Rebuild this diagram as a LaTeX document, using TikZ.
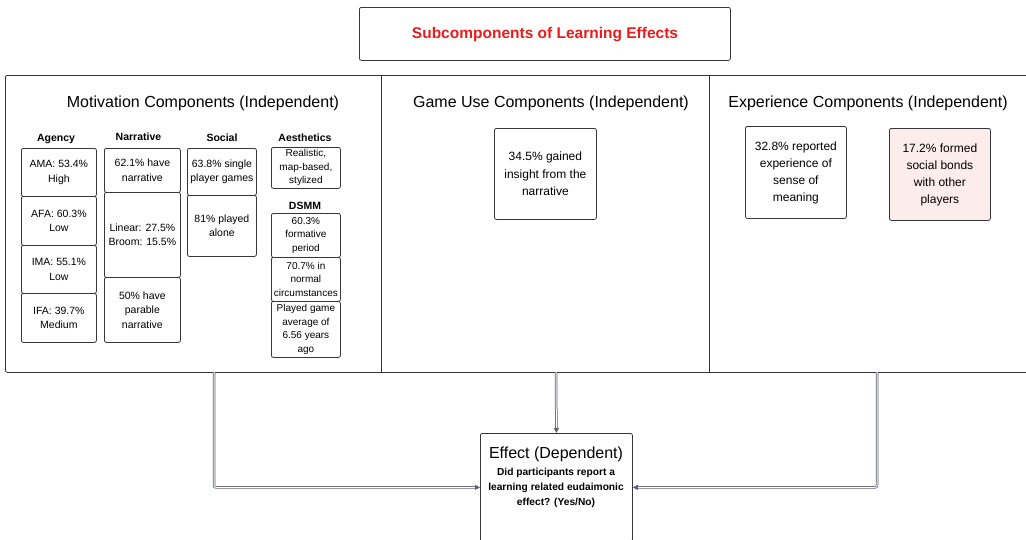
\documentclass[tikz,border=0pt]{standalone}
\usepackage{fontspec}
\setmainfont{Liberation Sans}
\usetikzlibrary{arrows.meta}
\definecolor{titlered}{RGB}{232,28,28}
\definecolor{edge}{RGB}{55,55,58}
\definecolor{pinkfill}{RGB}{253,236,236}
\definecolor{conngray}{RGB}{92,98,108}
\begin{document}
\begin{tikzpicture}[x=1pt,y=-1pt,
  box/.style={draw=edge, line width=0.8pt, rounded corners=2pt, anchor=north west, inner sep=0pt, align=center, font=\fontsize{10.5}{14.5}\selectfont},
  smallbox/.style={box, font=\fontsize{10}{13.5}\selectfont},
  bigbox/.style={box, font=\fontsize{12}{17.5}\selectfont},
  colhead/.style={font=\fontsize{10.5}{12}\selectfont\bfseries, anchor=base, inner sep=0pt},
  panelhead/.style={font=\fontsize{16}{19}\selectfont, anchor=base, inner sep=0pt},
  conn/.style={draw=conngray, line width=0.75pt, double=white, double distance=1pt, rounded corners=2pt, -{Triangle[length=5pt,width=5pt]}},
]
\useasboundingbox (0,0) rectangle (1026,539);
% title
\node[draw=edge, line width=0.8pt, rounded corners=2pt, anchor=north west, minimum width=371, minimum height=53, inner sep=0pt] (titlebox) at (359,7) {};
\node[font=\fontsize{15.5}{18}\selectfont\bfseries, text=titlered, anchor=base, inner sep=0pt] (title) at (545,38) {Subcomponents of Learning Effects};
% panel
\node[draw=edge, line width=0.8pt, rounded corners=2pt, anchor=north west, minimum width=1030, minimum height=297, inner sep=0pt] (panel) at (5,75) {};
\draw[edge, line width=0.8pt] (381,75) -- (381,372);
\draw[edge, line width=0.8pt] (709,75) -- (709,372);
\node[panelhead] (motivhead) at (203,107.5) {Motivation Components (Independent)};
\node[panelhead] (gamehead) at (551,107.5) {Game Use Components (Independent)};
\node[panelhead] (exphead) at (868,107.5) {Experience Components (Independent)};
% column headings
\node[colhead] (agency) at (56,141) {Agency};
\node[colhead] (narrative) at (138.5,140) {Narrative};
\node[colhead] (social) at (222,141) {Social};
\node[colhead] (aesthetics) at (305,141) {Aesthetics};
\node[colhead] (dsmm) at (305,209.5) {DSMM};
% agency
\node[box, minimum width=75, minimum height=48] (ag1) at (21,148) {AMA: 53.4\%\\High};
\node[box, minimum width=75, minimum height=49] (ag2) at (21,196) {AFA: 60.3\%\\Low};
\node[box, minimum width=75, minimum height=48] (ag3) at (21,245) {IMA: 55.1\%\\Low};
\node[box, minimum width=75, minimum height=49] (ag4) at (21,293) {IFA: 39.7\%\\Medium};
% narrative
\node[box, minimum width=76, minimum height=44] (na1) at (104,148) {62.1\% have\\narrative};
\node[box, minimum width=76, minimum height=85] (na2) at (104,192) {Linear: 27.5\%\\Broom: 15.5\%};
\node[box, minimum width=76, minimum height=65] (na3) at (104,277) {50\% have\\parable\\narrative};
% social
\node[box, minimum width=69, minimum height=47] (so1) at (187,148) {63.8\% single\\player games};
\node[box, minimum width=69, minimum height=61] (so2) at (187,195) {81\% played\\alone};
% aesthetics
\node[smallbox, minimum width=69, minimum height=41] (ae1) at (271,147) {Realistic,\\map-based,\\stylized};
% dsmm
\node[smallbox, minimum width=69, minimum height=44] (ds1) at (271,213) {60.3\%\\formative\\period};
\node[smallbox, minimum width=69, minimum height=44] (ds2) at (271,257) {70.7\% in\\normal\\circumstances};
\node[smallbox, minimum width=69, minimum height=56] (ds3) at (271,301) {Played game\\average of\\6.56 years\\ago};
% game use
\node[bigbox, minimum width=102, minimum height=91] (gu1) at (494,128) {34.5\% gained\\insight from the\\narrative};
% experience
\node[bigbox, font=\fontsize{12}{17}\selectfont, minimum width=101, minimum height=92] (ex1) at (745,126) {32.8\% reported\\experience of\\sense of\\meaning};
\node[bigbox, font=\fontsize{12}{17}\selectfont, fill=pinkfill, minimum width=101, minimum height=92] (ex2) at (889,128) {17.2\% formed\\social bonds\\with other\\players};
% effect
\node[draw=edge, line width=0.8pt, rounded corners=2pt, anchor=north west, minimum width=152, minimum height=108, inner sep=0pt] (effect) at (480,433) {};
\node[panelhead] (effecttitle) at (556,458) {Effect (Dependent)};
\node[font=\fontsize{10.2}{15}\selectfont\bfseries, align=center, anchor=north, inner sep=0pt] (effecttext) at (556,467.5) {Did participants report a\\learning related eudaimonic\\effect? (Yes/No)};
% connectors
\coordinate (motout) at (214,372);
\coordinate (gameout) at (556,372);
\coordinate (expout) at (877,372);
\draw[conn] (motout) |- (effect.west);
\draw[conn] (gameout) -- (effect.north);
\draw[conn] (expout) |- (effect.east);
\end{tikzpicture}
\end{document}
